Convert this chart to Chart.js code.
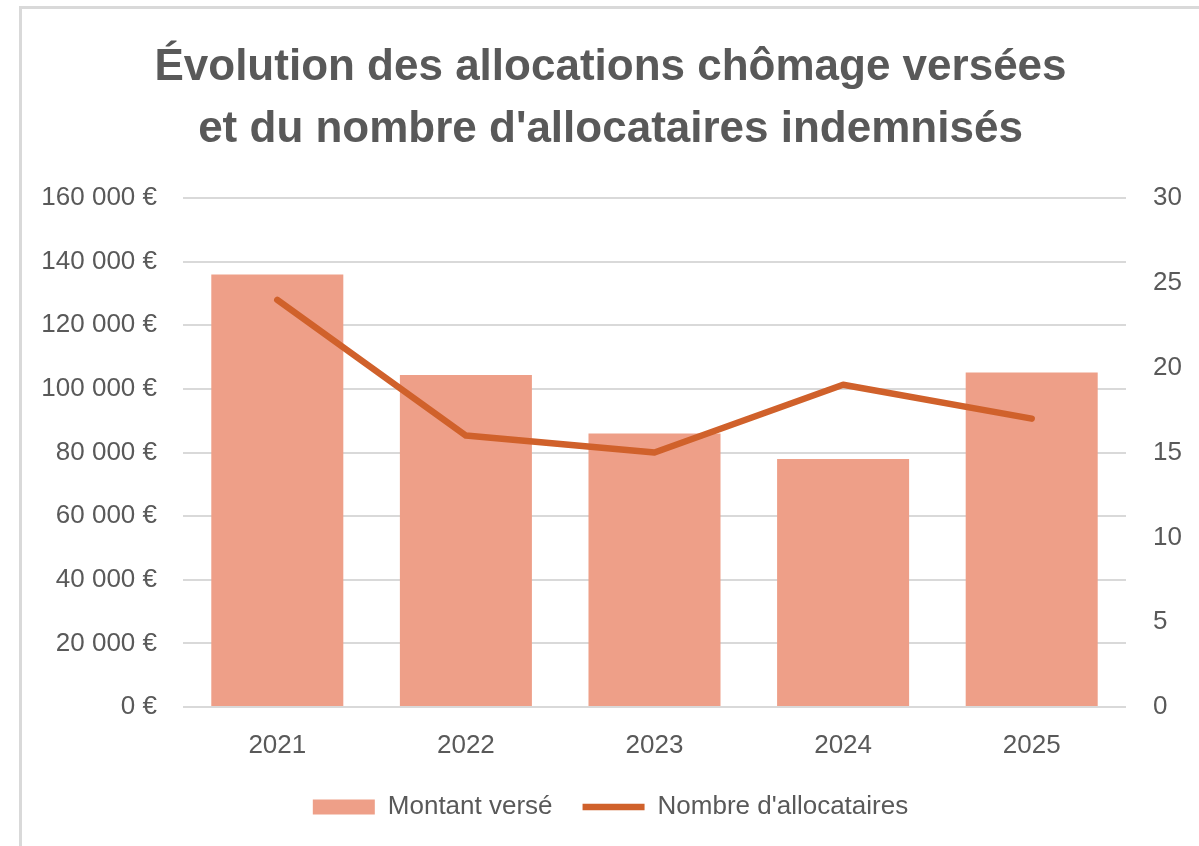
<!DOCTYPE html>
<html lang="fr">
<head>
<meta charset="utf-8">
<script src="https://cdn.jsdelivr.net/npm/chart.js@4.4.1/dist/chart.umd.min.js"></script>
<style>
  html, body { margin: 0; padding: 0; background: #ffffff; overflow: hidden; }
  #wrap { position: relative; width: 1199px; height: 846px; }
  #c { position: absolute; left: 0; top: 0; }
  #frame { position: absolute; left: 19px; top: 6px; width: 1300px; height: 1000px;
           border-left: 3px solid #d9d9d9; border-top: 3px solid #d9d9d9; pointer-events: none; }
</style>
</head>
<body>
<div id="wrap">
  <canvas id="c" width="1199" height="846"></canvas>
  <div id="frame"></div>
</div>
<script>
const titleLines = ['Évolution des allocations chômage versées', "et du nombre d'allocataires indemnisés"];
const years = ['2021', '2022', '2023', '2024', '2025'];
const montantVerse = [136000, 104400, 86000, 78000, 105200];
const nombreAllocataires = [24, 16, 15, 19, 17];
const seriesNames = ['Montant versé', "Nombre d'allocataires"];

const GREY = '#595959';
const TICK_FONT = { family: "'Liberation Sans', Arial, sans-serif", size: 26 };

function euro(v) {
  return String(v).replace(/\B(?=(\d{3})+(?!\d))/g, '\u00a0') + '\u00a0€';
}

new Chart(document.getElementById('c'), {
  data: {
    labels: years,
    datasets: [
      {
        type: 'bar',
        label: seriesNames[0],
        data: montantVerse,
        backgroundColor: '#EE9F88',
        borderWidth: 0,
        yAxisID: 'y',
        order: 1,
        pointStyle: 'rect',
        barPercentage: 0.7,
        categoryPercentage: 1
      },
      {
        type: 'line',
        label: seriesNames[1],
        data: nombreAllocataires,
        borderColor: '#D0612B',
        backgroundColor: '#D0612B',
        borderWidth: 6.5,
        borderCapStyle: 'round',
        borderJoinStyle: 'round',
        pointRadius: 0,
        pointHoverRadius: 0,
        pointStyle: 'line',
        tension: 0,
        yAxisID: 'y1',
        order: 0
      }
    ]
  },
  options: {
    responsive: false,
    animation: false,
    layout: { padding: { left: 22, right: 0, top: 37, bottom: 16 } },
    plugins: {
      title: {
        display: true,
        text: titleLines,
        color: GREY,
        font: { family: "'Liberation Sans', Arial, sans-serif", size: 44, weight: 'bold', lineHeight: 1.41 },
        padding: { top: 0, bottom: 37 }
      },
      legend: {
        position: 'bottom',
        labels: {
          usePointStyle: true,
          pointStyleWidth: 62,
          boxHeight: 15,
          color: GREY,
          font: TICK_FONT,
          padding: 30,
          sort: (a, b) => a.datasetIndex - b.datasetIndex
        }
      },
      tooltip: { enabled: false }
    },
    scales: {
      x: {
        grid: { display: false, drawTicks: false },
        border: { display: false },
        ticks: { color: GREY, font: TICK_FONT, padding: 23 },
        afterFit(scale) { scale.height = 57; }
      },
      y: {
        position: 'left',
        min: 0,
        max: 160000,
        ticks: { stepSize: 20000, color: GREY, font: TICK_FONT, padding: 26, callback: (v) => euro(v) },
        grid: { color: '#d9d9d9', lineWidth: 2, drawTicks: false },
        border: { display: false },
        afterFit(scale) { scale.width = 161; }
      },
      y1: {
        position: 'right',
        min: 0,
        max: 30,
        ticks: { stepSize: 5, color: GREY, font: TICK_FONT, padding: 27 },
        grid: { display: false, drawTicks: false },
        border: { display: false },
        afterFit(scale) { scale.width = 73; }
      }
    }
  }
});
</script>
</body>
</html>
